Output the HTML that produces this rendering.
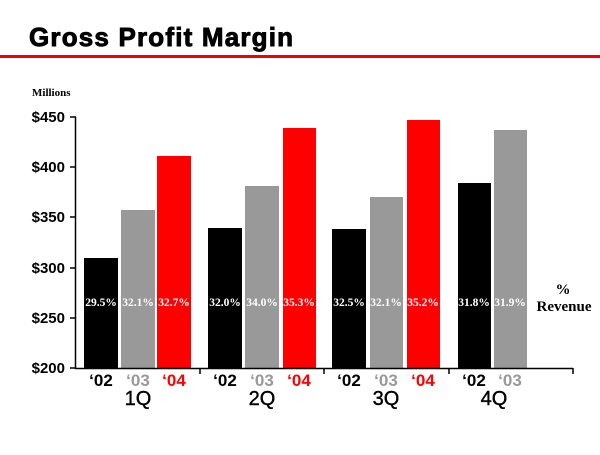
<!DOCTYPE html>
<html><head><meta charset="utf-8"><style>
body{margin:0;background:#fff;width:600px;height:450px;overflow:hidden}
</style></head><body>
<svg width="600" height="450" xmlns="http://www.w3.org/2000/svg" font-family="Liberation Sans, sans-serif">
<text x="29" y="46" font-size="26" font-weight="bold" fill="#000" stroke="#000" stroke-width="0.9" textLength="264">Gross Profit Margin</text>
<rect x="0" y="55" width="600" height="3" fill="#e00"/>
<text x="32" y="96" font-family="Liberation Serif, serif" font-size="11" font-weight="bold">Millions</text>
<g font-size="15" font-weight="bold" text-anchor="end">
<text x="65" y="122">$450</text><text x="65" y="172">$400</text><text x="65" y="222">$350</text>
<text x="65" y="273">$300</text><text x="65" y="323">$250</text><text x="65" y="373">$200</text>
</g>
<g fill="#000">
<rect x="84" y="258" width="34" height="110"/>
<rect x="208" y="228" width="34" height="140"/>
<rect x="332" y="229" width="34" height="139"/>
<rect x="458" y="183" width="33" height="185"/>
</g>
<g fill="#999">
<rect x="121" y="210" width="34" height="158"/>
<rect x="245" y="186" width="34" height="182"/>
<rect x="370" y="197" width="33" height="171"/>
<rect x="494" y="130" width="33" height="238"/>
</g>
<g fill="#f00">
<rect x="157" y="156" width="34" height="212"/>
<rect x="283" y="128" width="33" height="240"/>
<rect x="407" y="120" width="33" height="248"/>
</g>
<g stroke="#000" stroke-width="1.5" fill="none">
<line x1="75.5" y1="117" x2="75.5" y2="369"/>
<line x1="70" y1="117" x2="76" y2="117"/><line x1="70" y1="167" x2="76" y2="167"/>
<line x1="70" y1="217" x2="76" y2="217"/><line x1="70" y1="268" x2="76" y2="268"/>
<line x1="70" y1="318" x2="76" y2="318"/><line x1="70" y1="368" x2="76" y2="368"/>
<line x1="75" y1="368.5" x2="573" y2="368.5"/>
<line x1="200" y1="368" x2="200" y2="374"/><line x1="324" y1="368" x2="324" y2="374"/>
<line x1="449" y1="368" x2="449" y2="374"/><line x1="573" y1="368" x2="573" y2="374"/>
</g>
<g font-family="Liberation Serif, serif" font-size="11.5" font-weight="bold" fill="#fff" text-anchor="middle">
<text x="101" y="306">29.5%</text><text x="138" y="306">32.1%</text><text x="174" y="306">32.7%</text>
<text x="225" y="306">32.0%</text><text x="262" y="306">34.0%</text><text x="299" y="306">35.3%</text>
<text x="349" y="306">32.5%</text><text x="386" y="306">32.1%</text><text x="423" y="306">35.2%</text>
<text x="474" y="306">31.8%</text><text x="510" y="306">31.9%</text>
</g>
<g font-family="Liberation Serif, serif" font-size="15" font-weight="bold" fill="#000" text-anchor="middle">
<text x="563" y="294">%</text><text x="564" y="311">Revenue</text>
</g>
<g font-size="17" font-weight="bold" text-anchor="middle">
<text x="101" y="386">‘02</text><text x="138" y="386" fill="#999">‘03</text><text x="174" y="386" fill="#f00">‘04</text>
<text x="225" y="386">‘02</text><text x="262" y="386" fill="#999">‘03</text><text x="299" y="386" fill="#f00">‘04</text>
<text x="349" y="386">‘02</text><text x="386" y="386" fill="#999">‘03</text><text x="423" y="386" fill="#f00">‘04</text>
<text x="474" y="386">‘02</text><text x="510" y="386" fill="#999">‘03</text>
</g>
<g font-size="20" text-anchor="middle" stroke="#000" stroke-width="0.4">
<text x="138" y="405">1Q</text><text x="262" y="405">2Q</text><text x="386" y="405">3Q</text><text x="494" y="405">4Q</text>
</g>
</svg>
</body></html>
